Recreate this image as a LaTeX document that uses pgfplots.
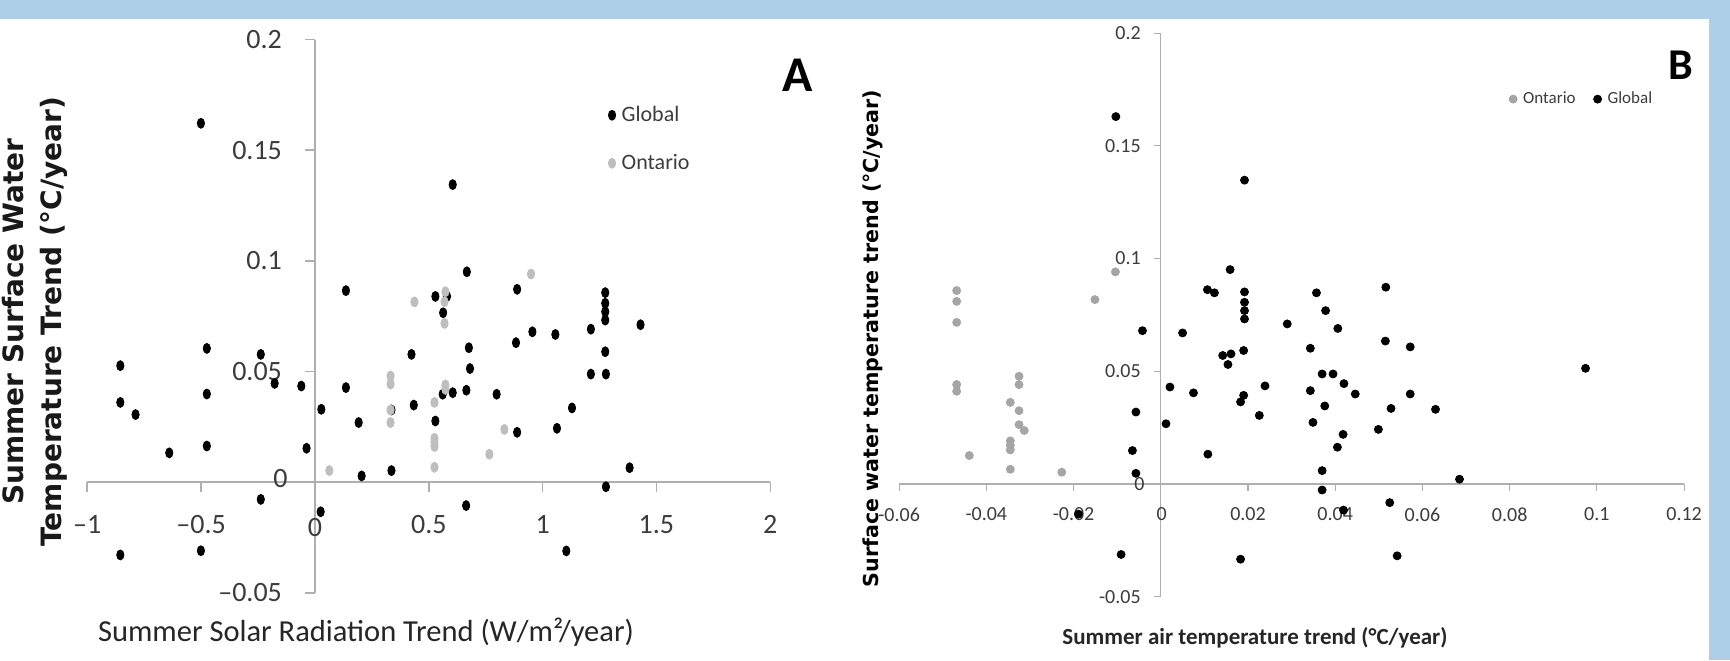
\documentclass[border=0pt]{standalone}
\usepackage{pgfplots}
\pgfplotsset{compat=1.18}
\usepackage{fontspec}
\setmainfont{Carlito}
\newfontfamily\wide{DejaVu Sans}
\definecolor{frameblue}{RGB}{173,207,232}
\definecolor{ontA}{RGB}{190,190,190}
\definecolor{ontB}{RGB}{165,165,165}
\definecolor{axgray}{RGB}{175,175,175}
\definecolor{txt}{RGB}{60,60,60}

\pgfplotsset{
  dotlegend/.style={legend image code/.code={\draw[##1] plot coordinates {(2pt,0pt)};}},
}

\begin{document}
\begin{tikzpicture}
\fill[white] (0,0) rectangle (865pt,-330pt);
\fill[frameblue] (0,0) rectangle (865pt,-9.5pt);
\fill[frameblue] (854.5pt,0) rectangle (865pt,-330pt);

% panel A
\begin{axis}[
  at={(43.65pt,-296.5pt)}, anchor=south west,
  scale only axis, width=341.5pt, height=276.7pt,
  xmin=-1, xmax=2, ymin=-0.05, ymax=0.2,
  axis lines=middle, axis line style={-, axgray, line width=1pt},
  tick align=outside, major tick length=5pt,
  tick style={axgray, line width=0.8pt},
  xtick={-1,-0.5,0,0.5,1,1.5,2},
  xticklabels={–1,–0.5,0,0.5,1,1.5,2},
  ytick={-0.05,0,0.05,0.1,0.15,0.2},
  yticklabels={–0.05,0,0.05,0.1,0.15,0.2},
  ticklabel style={font=\fontsize{14}{14}\selectfont, text=txt},
  xticklabel style={yshift=-8pt},
  yticklabel style={xshift=-8pt},
  clip=false,
  dotlegend,
  legend style={draw=none, fill=none, at={(0.7536,0.82)}, anchor=west,
    font=\fontsize{11}{11}\selectfont, text=txt,
    nodes={inner sep=0pt, text height=8pt, text depth=2pt}, row sep=14pt,
    /tikz/every odd column/.append style={column sep=3pt}},
  legend cell align=left,
]
\addplot[only marks, mark=*, mark size=2.5pt, mark options={xscale=0.73, black}] coordinates {
(-0.855,0.0527) (-0.855,0.0361) (-0.788,0.0306) (-0.640,0.0133) (-0.475,0.0605)
(-0.475,0.0399) (-0.475,0.0164) (-0.501,0.1622) (-0.238,0.0578) (-0.177,0.0447)
(-0.060,0.0435) (-0.037,0.0154) (0.028,0.0330) (0.136,0.0866) (0.136,0.0428)
(0.192,0.0270) (0.205,0.0029) (0.336,0.0053) (0.336,0.0327) (0.424,0.0578)
(0.434,0.0349) (0.529,0.0277) (0.529,0.0840) (0.580,0.0840) (0.563,0.0766)
(0.561,0.0398) (0.605,0.0405) (0.605,0.1345) (0.665,0.0416) (0.667,0.0951)
(0.676,0.0608) (0.681,0.0514) (0.798,0.0398) (0.883,0.0631) (0.888,0.0872)
(0.888,0.0226) (0.955,0.0680) (1.056,0.0668) (1.063,0.0244) (1.129,0.0336)
(1.212,0.0489) (1.212,0.0692) (1.275,0.0857) (1.275,0.0809) (1.275,0.0771)
(1.275,0.0733) (1.275,0.0590) (1.278,0.0489) (1.430,0.0712) (1.382,0.0066)
(1.278,-0.0020) (0.664,-0.0105) (1.104,-0.0310) (-0.855,-0.0328) (-0.501,-0.0309)
(-0.238,-0.0077) (0.025,-0.0133)
};
\addlegendentry{Global}
\addplot[only marks, mark=*, mark size=2.5pt, mark options={xscale=0.73, ontA}] coordinates {
(0.063,0.0053) (0.332,0.0480) (0.332,0.0444) (0.332,0.0327) (0.332,0.0270)
(0.437,0.0815) (0.525,0.0361) (0.525,0.0199) (0.525,0.0180) (0.525,0.0162)
(0.525,0.0068) (0.573,0.0861) (0.569,0.0816) (0.569,0.0718) (0.573,0.0440)
(0.573,0.0420) (0.766,0.0127) (0.832,0.0239) (0.949,0.0941)
};
\addlegendentry{Ontario}
\end{axis}

% panel B
\begin{axis}[
  at={(449.55pt,-298.3pt)}, anchor=south west,
  scale only axis, width=392.5pt, height=281.7pt,
  xmin=-0.06, xmax=0.12, ymin=-0.05, ymax=0.2,
  axis lines=middle, axis line style={-, axgray, line width=0.7pt},
  tick align=outside, major tick length=3.5pt,
  tick style={axgray, line width=0.6pt},
  xtick={-0.06,-0.04,-0.02,0,0.02,0.04,0.06,0.08,0.1,0.12},
  xticklabels={-0.06,-0.04,-0.02,0,0.02,0.04,0.06,0.08,0.1,0.12},
  ytick={-0.05,0,0.05,0.1,0.15,0.2},
  yticklabels={-0.05,0,0.05,0.1,0.15,0.2},
  ticklabel style={font=\fontsize{10}{10}\selectfont, text=txt},
  xticklabel style={yshift=-5pt},
  yticklabel style={xshift=-3pt},
  clip=false,
  dotlegend,
  legend columns=2,
  legend style={draw=none, fill=none, at={(0.769,0.883)}, anchor=west,
    font=\fontsize{8.5}{8.5}\selectfont, text=txt,
    nodes={inner sep=0pt},
    /tikz/every odd column/.append style={column sep=3pt},
    /tikz/every even column/.append style={column sep=9pt}},
]
\addplot[only marks, mark=*, mark size=2pt, mark options={ontB}] coordinates {
(-0.0468,0.0858) (-0.0468,0.0810) (-0.0468,0.0717) (-0.0151,0.0818) (-0.0104,0.0941)
(-0.0468,0.0441) (-0.0468,0.0411) (-0.0439,0.0126) (-0.0345,0.0362) (-0.0345,0.0191)
(-0.0345,0.0171) (-0.0345,0.0151) (-0.0345,0.0065) (-0.0325,0.0478) (-0.0325,0.0441)
(-0.0325,0.0325) (-0.0325,0.0263) (-0.0313,0.0237) (-0.0227,0.0052)
};
\addlegendentry{Ontario}
\addplot[only marks, mark=*, mark size=2pt, mark options={black}] coordinates {
(-0.0103,0.1630) (-0.0042,0.0680) (0.0050,0.0670) (0.0192,0.1348) (0.0159,0.0951)
(0.0107,0.0862) (0.0123,0.0848) (0.0192,0.0852) (0.0192,0.0806) (0.0192,0.0769)
(0.0192,0.0732) (0.0290,0.0710) (0.0357,0.0848) (0.0378,0.0769) (0.0406,0.0690)
(0.0516,0.0873) (0.0075,0.0404) (0.0142,0.0570) (0.0161,0.0577) (0.0154,0.0530)
(0.0190,0.0592) (0.0190,0.0393) (0.0183,0.0364) (0.0239,0.0435) (0.0226,0.0304)
(0.0108,0.0132) (0.0343,0.0602) (0.0343,0.0414) (0.0370,0.0488) (0.0395,0.0488)
(0.0420,0.0445) (0.0446,0.0399) (0.0376,0.0346) (0.0349,0.0273) (0.0418,0.0220)
(0.0405,0.0163) (0.0370,0.0059) (0.0370,-0.0027) (0.0515,0.0634) (0.0572,0.0608)
(0.0572,0.0399) (0.0528,0.0335) (0.0630,0.0331) (0.0499,0.0242) (0.0685,0.0021)
(0.0974,0.0513) (0.0525,-0.0083) (0.0419,-0.0116) (0.0183,-0.0334) (0.0542,-0.0319)
(0.0021,0.0430) (-0.0057,0.0319) (0.0012,0.0267) (-0.0065,0.0148) (-0.0057,0.0047)
(-0.0189,-0.0134) (-0.0091,-0.0313)
};
\addlegendentry{Global}
\end{axis}

% zero tick labels hidden by the centred axes
\node[font=\fontsize{14}{14}\selectfont, text=txt] at (157.5pt,-263.5pt) {0};
\node[font=\fontsize{14}{14}\selectfont, text=txt, anchor=east, inner sep=0pt] at (144pt,-239.2pt) {0};
\node[font=\fontsize{10}{10}\selectfont, text=txt] at (580.8pt,-256.8pt) {0};
\node[font=\fontsize{10}{10}\selectfont, text=txt, anchor=east, inner sep=0pt] at (572.5pt,-242pt) {0};

% labels
\node[rotate=90, align=center, font=\wide\bfseries\fontsize{14}{19}\selectfont, text=black!90]
  at (17.5pt,-160.75pt) {Summer Surface Water\\Temperature Trend (°C/year)};
\node[font=\fontsize{15.25}{15.25}\selectfont, text=black!85] at (183pt,-316pt)
  {Summer Solar Radiation Trend (W/m²/year)};
\node[font=\bfseries\fontsize{25}{25}\selectfont] at (399pt,-37.5pt) {A};
\node[rotate=90, font=\wide\bfseries\fontsize{10.3}{10.3}\selectfont] at (436.5pt,-169.25pt)
  {Surface water temperature trend (°C/year)};
\node[font=\bfseries\fontsize{11.5}{11.5}\selectfont, text=black!85] at (627.5pt,-319pt)
  {Summer air temperature trend (°C/year)};
\node[font=\bfseries\fontsize{22}{22}\selectfont] at (840.5pt,-32.5pt) {B};

\pgfresetboundingbox
\path[use as bounding box] (0,0) rectangle (865pt,-330pt);
\end{tikzpicture}
\end{document}
